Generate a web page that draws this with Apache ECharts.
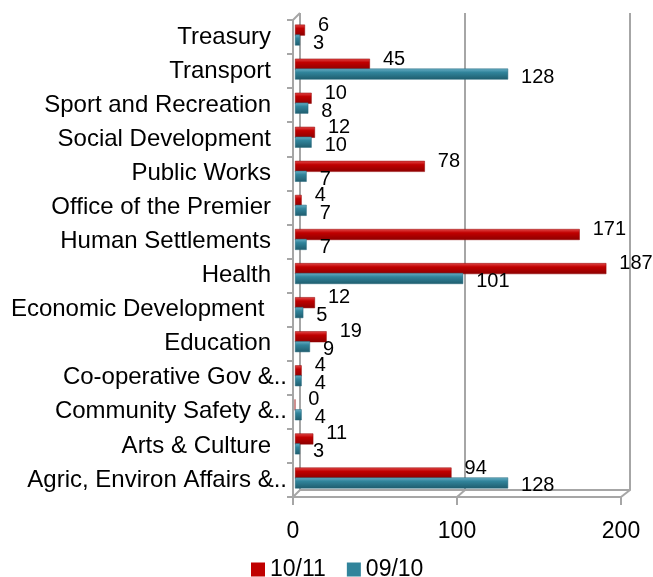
<!DOCTYPE html>
<html>
<head>
<meta charset="utf-8">
<script src="https://cdn.jsdelivr.net/npm/echarts@6/dist/echarts.min.js"></script>
<style>
  html, body { margin: 0; padding: 0; background: #fff; }
  #chart { width: 653px; height: 577px; }
</style>
</head>
<body>
<div id="chart"></div>
<script>
// departments, top to bottom as in the picture
const categories = [
  'Treasury',
  'Transport',
  'Sport and Recreation',
  'Social Development',
  'Public Works',
  'Office of the Premier',
  'Human Settlements',
  'Health',
  'Economic Development ',
  'Education',
  'Co-operative Gov &..',
  'Community Safety &..',
  'Arts & Culture',
  'Agric, Environ Affairs &..'
]
const seriesNames = ['10/11', '09/10']
const values1011 = [6, 45, 10, 12, 78, 4, 171, 187, 12, 19, 4, 0, 11, 94]
const values0910 = [3, 128, 8, 10, 7, 7, 7, 101, 5, 9, 4, 4, 3, 128]
const xTicks = [0, 100, 200]

// front plane, plane of the bars and back wall (pseudo 3D)
const front = { left: 293, right: 32, top: 20, bottom: 80 }
const mid = { left: 295, right: 25, top: 18, bottom: 82 }
const back = { left: 300, right: 23, top: 13, bottom: 87 }
const W = 653, H = 577
const wallColor = '#a6a6a6'
const redColor = '#c00000'
const tealColor = '#31849b'
const fontFamily = 'Liberation Sans, Arial, sans-serif'

const chart = echarts.init(document.getElementById('chart'))

const barGradient = (light, midColor, dark) => ({
  type: 'linear', x: 0, y: 0, x2: 0, y2: 1,
  colorStops: [
    { offset: 0, color: light },
    { offset: 0.35, color: midColor },
    { offset: 1, color: dark }
  ]
})

// small diagonal edges joining front plane to back wall
const span = xTicks[xTicks.length - 1] - xTicks[0]
const fx = v => front.left + (W - front.left - front.right) * (v - xTicks[0]) / span
const bx = v => back.left + (W - back.left - back.right) * (v - xTicks[0]) / span
const edges = xTicks.map(v => ({
  type: 'line',
  shape: { x1: fx(v), y1: H - front.bottom, x2: bx(v), y2: H - back.bottom },
  style: { stroke: wallColor, lineWidth: 2 }
}))
edges.push({
  type: 'line',
  shape: { x1: front.left, y1: front.top, x2: back.left, y2: back.top },
  style: { stroke: wallColor, lineWidth: 2 }
})

// full names stop short of the axis, truncated ones run on with their dots
const catLabel = name => {
  if (name.endsWith('..')) {
    return '{t|' + name + '}'
  }
  return '{t|' + name + '}{p|}'
}

const hidden = {
  axisLine: { show: false },
  axisTick: { show: false },
  axisLabel: { show: false },
  splitLine: { show: false }
}

const option = {
  backgroundColor: '#fff',
  textStyle: { fontFamily: fontFamily },
  legend: {
    data: [
      { name: seriesNames[0], itemStyle: { color: redColor, borderWidth: 0 } },
      { name: seriesNames[1], itemStyle: { color: tealColor, borderWidth: 0 } }
    ],
    left: 246,
    top: 553,
    itemWidth: 14,
    itemHeight: 14,
    itemGap: 21,
    icon: 'rect',
    textStyle: { fontSize: 23, color: '#000', fontFamily: fontFamily }
  },
  grid: [
    Object.assign({}, front),
    Object.assign({}, back),
    Object.assign({}, mid)
  ],
  xAxis: [
    {
      gridIndex: 0,
      type: 'value',
      min: 0,
      max: 200,
      interval: 100,
      axisLine: { show: true, lineStyle: { color: wallColor, width: 2 } },
      axisTick: { show: true, length: 8, lineStyle: { color: wallColor, width: 2 } },
      splitLine: { show: false },
      axisLabel: { fontSize: 23, color: '#000', margin: 23, fontFamily: fontFamily }
    },
    {
      gridIndex: 1,
      type: 'value',
      min: 0,
      max: 200,
      interval: 100,
      axisLine: { show: true, lineStyle: { color: wallColor, width: 2 } },
      axisTick: { show: false },
      axisLabel: { show: false },
      splitLine: { show: true, lineStyle: { color: wallColor, width: 2 } }
    },
    Object.assign({ gridIndex: 2, type: 'value', min: 0, max: 200, interval: 100 }, hidden)
  ],
  yAxis: [
    {
      gridIndex: 0,
      type: 'category',
      inverse: true,
      data: categories,
      axisLine: { show: true, lineStyle: { color: wallColor, width: 2 } },
      axisTick: { show: true, length: 6, lineStyle: { color: wallColor, width: 2 } },
      axisLabel: {
        margin: 6,
        formatter: catLabel,
        rich: {
          t: { fontSize: 24, color: '#000', fontFamily: fontFamily },
          p: { width: 16 }
        }
      }
    },
    Object.assign({ gridIndex: 1, type: 'category', inverse: true, data: categories }, hidden),
    Object.assign({ gridIndex: 2, type: 'category', inverse: true, data: categories }, hidden)
  ],
  series: [
    {
      name: seriesNames[0],
      type: 'bar',
      xAxisIndex: 2,
      yAxisIndex: 2,
      data: values1011,
      barWidth: 11,
      barGap: '-10%',
      color: redColor,
      itemStyle: {
        color: barGradient('#e24a4a', redColor, '#8c0000'),
        borderColor: '#900000',
        borderWidth: 0.5
      },
      label: {
        show: true,
        position: 'right',
        distance: 13,
        offset: [0, -5],
        fontSize: 20,
        color: '#000',
        fontFamily: fontFamily
      }
    },
    {
      name: seriesNames[1],
      type: 'bar',
      xAxisIndex: 2,
      yAxisIndex: 2,
      data: values0910,
      barWidth: 11,
      color: tealColor,
      itemStyle: {
        color: barGradient('#6ab0c6', tealColor, '#1f5c6d'),
        borderColor: '#24677a',
        borderWidth: 0.5
      },
      label: {
        show: true,
        position: 'right',
        distance: 13,
        offset: [0, 3],
        fontSize: 20,
        color: '#000',
        fontFamily: fontFamily
      }
    }
  ],
  graphic: edges
}

chart.setOption(option)
</script>
</body>
</html>
